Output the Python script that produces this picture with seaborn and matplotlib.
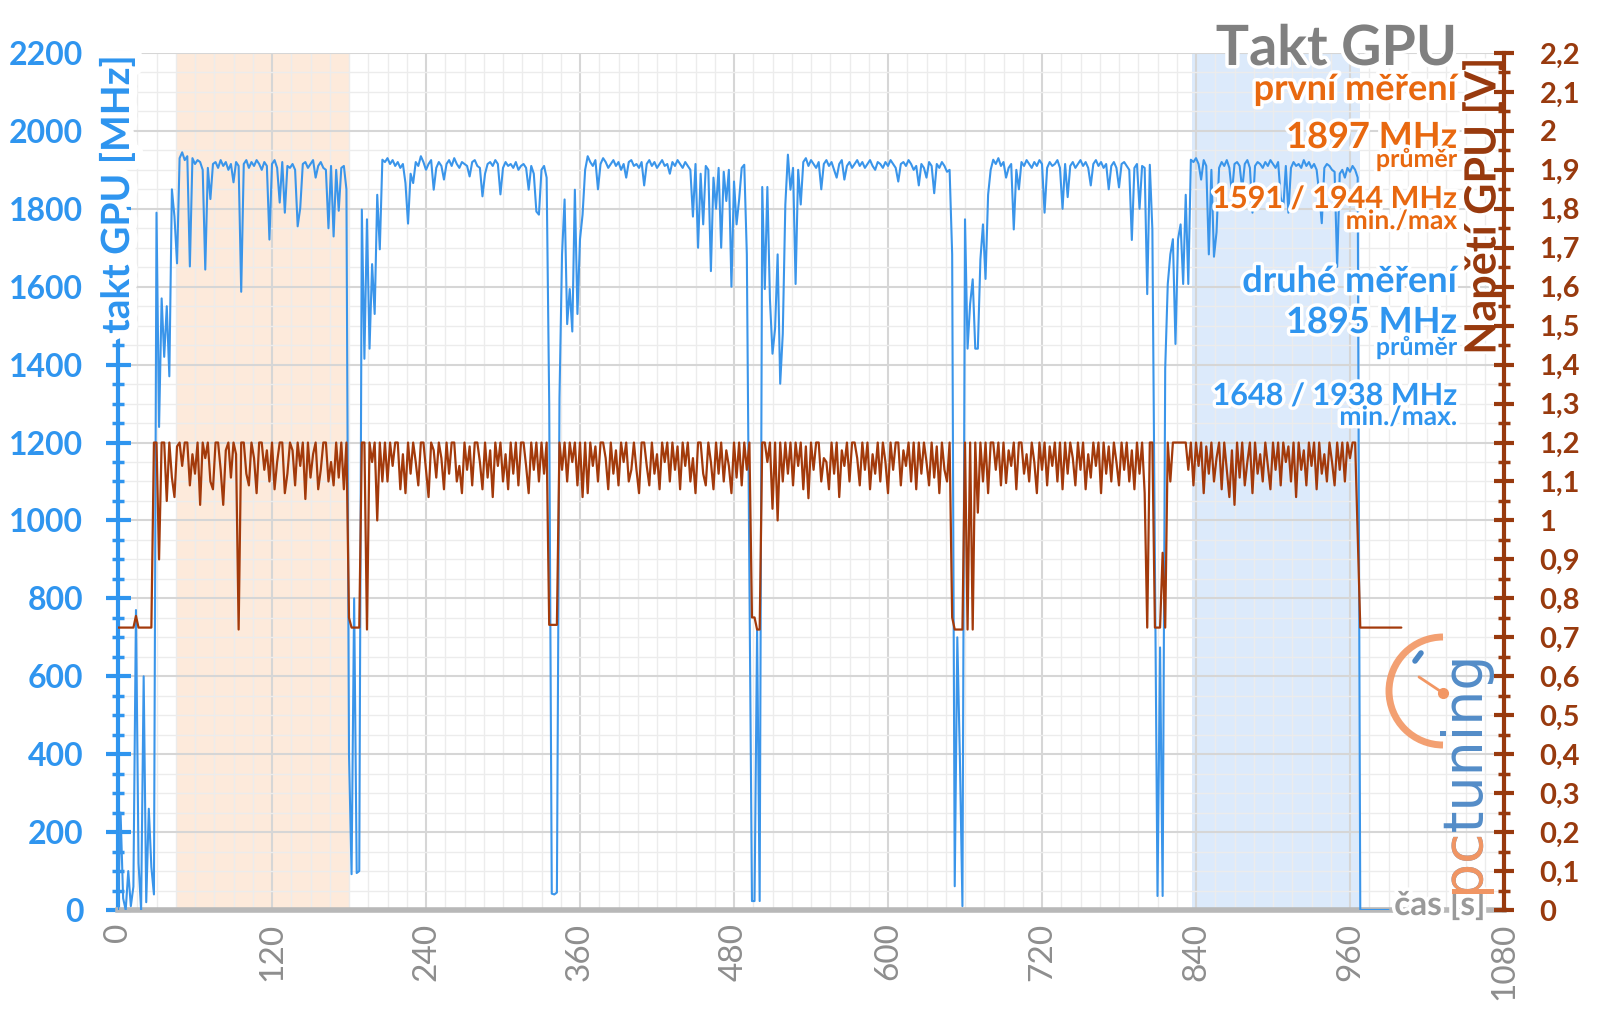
import numpy as np
import pandas as pd
import matplotlib
matplotlib.use("Agg")
import matplotlib.pyplot as plt
import seaborn as sns
from matplotlib.ticker import MultipleLocator, FuncFormatter, FixedLocator
from matplotlib.patches import Arc
import matplotlib.patheffects as pe

# ---------------- data (2 s sampling, each segment: start time, values) ----------------
clock_idle = [0, 250, 30, 0, 100, 10, 60, 770, 120, 0, 600, 20, 260, 110, 40]
clock_ramp = [1790, 1240, 1570, 1420, 1550, 1370, 1850, 1780, 1660]
clock_run1 = [1930, 1945, 1925, 1935, 1652, 1930, 1915, 1925, 1920, 1900, 1644, 1905, 1825, 1915,
              1920, 1905, 1925, 1910, 1920, 1900, 1915, 1868, 1920, 1910, 1587, 1915, 1925, 1905,
              1920, 1910, 1925, 1915, 1900, 1920, 1910, 1721, 1915, 1925, 1905, 1816, 1920, 1790,
              1910, 1905, 1915, 1900, 1755, 1802, 1915, 1920, 1905, 1915, 1925, 1880, 1910, 1920,
              1905, 1900, 1750, 1910, 1729, 1900, 1795, 1905, 1910, 1850]
clock_gap1 = [400, 92, 800, 95, 100, 1798, 1415, 1773, 1441, 1658, 1530, 1836, 1696]
clock_run2 = [1926, 1920, 1930, 1915, 1925, 1910, 1920, 1905, 1915, 1866, 1762, 1890, 1866, 1920,
              1910, 1935, 1920, 1900, 1915, 1925, 1849, 1905, 1920, 1910, 1875, 1915, 1925, 1910,
              1930, 1915, 1905, 1920, 1915, 1910, 1883, 1920, 1925, 1910, 1905, 1832, 1890, 1915,
              1920, 1910, 1925, 1915, 1837, 1905, 1920, 1910, 1915, 1905, 1920, 1900, 1910, 1915,
              1905, 1849, 1910, 1890, 1793, 1785, 1900, 1910, 1880]
clock_gap2 = [1300, 42, 40, 45, 1313, 1683, 1824, 1504, 1594, 1485, 1849, 1530, 1722, 1785, 1900]
clock_run3 = [1935, 1920, 1910, 1925, 1850, 1915, 1930, 1920, 1905, 1915, 1925, 1910, 1920, 1900,
              1915, 1880, 1920, 1925, 1910, 1915, 1905, 1920, 1860, 1915, 1925, 1910, 1920, 1905,
              1915, 1925, 1910, 1915, 1890, 1920, 1910, 1925, 1915, 1905, 1920, 1910, 1900, 1780,
              1915, 1700, 1890, 1760, 1910, 1900, 1640, 1880, 1800, 1905, 1700, 1895, 1820, 1900,
              1600, 1870, 1760, 1824, 1905, 1913, 1683]
clock_gap3 = [23, 23, 720, 23, 1856, 1594, 1856, 1568, 1428, 1492, 1683, 1351, 1479, 1811, 1939]
clock_run4 = [1849, 1905, 1607, 1900, 1811, 1920, 1930, 1910, 1925, 1915, 1905, 1920, 1850, 1915,
              1925, 1910, 1920, 1900, 1880, 1915, 1925, 1875, 1910, 1920, 1905, 1915, 1925, 1910,
              1920, 1905, 1915, 1925, 1910, 1900, 1920, 1915, 1905, 1920, 1910, 1925, 1915, 1905,
              1870, 1915, 1920, 1910, 1925, 1915, 1900, 1910, 1860, 1915, 1905, 1880, 1920, 1910,
              1840, 1915, 1905, 1920, 1910, 1895, 1900]
clock_gap4 = [1683, 61, 700, 393, 10, 1773, 1441, 1556, 1619, 1441, 1441, 1670, 1760, 1620, 1836, 1900]
clock_run5 = [1926, 1915, 1930, 1910, 1920, 1880, 1905, 1915, 1747, 1900, 1850, 1920, 1910, 1925,
              1915, 1905, 1920, 1910, 1925, 1915, 1790, 1905, 1920, 1910, 1915, 1925, 1905, 1800,
              1915, 1830, 1910, 1920, 1905, 1915, 1925, 1910, 1920, 1905, 1860, 1915, 1925, 1910,
              1920, 1905, 1915, 1850, 1910, 1920, 1905, 1855, 1915, 1920, 1910, 1900, 1720, 1905,
              1915, 1800, 1910, 1905, 1581, 1913, 1747]
clock_gap5 = [900, 36, 674, 36, 1390, 1607, 1683, 1722, 1453, 1722, 1760, 1607, 1836, 1607, 1926]
clock_run6 = [1920, 1930, 1915, 1875, 1925, 1910, 1683, 1900, 1677, 1740, 1905, 1920, 1910, 1925,
              1905, 1840, 1915, 1920, 1910, 1850, 1915, 1925, 1905, 1790, 1910, 1920, 1915, 1905,
              1920, 1910, 1925, 1915, 1905, 1920, 1830, 1800, 1910, 1790, 1905, 1920, 1910, 1915,
              1905, 1925, 1910, 1920, 1905, 1915, 1900, 1840, 1763, 1905, 1915, 1910, 1900, 1895,
              1651, 1890, 1900, 1880, 1905, 1895, 1910, 1900, 1880]
clock_end = [0, 0, 0, 0, 0, 0, 0, 0, 0, 0, 0, 0]

volt_idle = [0.725, 0.725, 0.725, 0.725, 0.725, 0.725, 0.725, 0.755, 0.725, 0.725, 0.725, 0.725,
             0.725, 0.725]
volt_run1 = [1.2, 1.2, 0.90, 1.2, 1.2, 1.05, 1.2, 1.11, 1.06, 1.19,
             1.2, 1.14, 1.2, 1.2, 1.09, 1.17, 1.12, 1.2, 1.04, 1.2,
             1.16, 1.2, 1.1, 1.08, 1.2, 1.2, 1.13, 1.04, 1.18, 1.2,
             1.11, 1.2, 1.17, 0.72, 1.2, 1.2, 1.12, 1.09, 1.2, 1.16,
             1.07, 1.2, 1.2, 1.13, 1.18, 1.1, 1.2, 1.08, 1.15, 1.2,
             1.2, 1.07, 1.12, 1.2, 1.18, 1.09, 1.2, 1.14, 1.2, 1.055,
             1.2, 1.11, 1.17, 1.2, 1.08, 1.13, 1.2, 1.2, 1.1, 1.15,
             1.09, 1.2, 1.11, 1.2, 1.08, 1.2]
volt_gap1 = [0.75, 0.725, 0.725, 0.725, 0.725, 1.2, 1.2, 0.72, 1.2, 1.15, 1.2, 1.0, 1.2, 1.1, 1.2]
volt_run2 = [1.1, 1.2, 1.14, 1.2, 1.2, 1.08, 1.17, 1.07, 1.2, 1.12,
             1.2, 1.15, 1.09, 1.2, 1.2, 1.13, 1.06, 1.2, 1.18, 1.11,
             1.2, 1.16, 1.08, 1.2, 1.12, 1.2, 1.2, 1.1, 1.14, 1.07,
             1.2, 1.13, 1.19, 1.09, 1.2, 1.2, 1.15, 1.08, 1.2, 1.11,
             1.18, 1.06, 1.2, 1.14, 1.2, 1.1, 1.17, 1.08, 1.2, 1.12,
             1.2, 1.09, 1.2, 1.2, 1.14, 1.07, 1.2, 1.13, 1.2, 1.1,
             1.2, 1.12, 1.2]
volt_gap2 = [0.732, 0.732, 0.732, 0.732, 1.2, 1.13, 1.2, 1.1, 1.2, 1.15, 1.2, 1.09, 1.2, 1.06]
volt_run3 = [1.2, 1.07, 1.2, 1.14, 1.19, 1.1, 1.2, 1.2, 1.16, 1.08,
             1.2, 1.12, 1.18, 1.09, 1.2, 1.15, 1.2, 1.1, 1.13, 1.2,
             1.13, 1.07, 1.2, 1.2, 1.14, 1.09, 1.2, 1.12, 1.17, 1.08,
             1.2, 1.15, 1.2, 1.1, 1.2, 1.13, 1.19, 1.08, 1.2, 1.14,
             1.2, 1.1, 1.16, 1.07, 1.2, 1.2, 1.12, 1.09, 1.2, 1.15,
             1.08, 1.2, 1.12, 1.2, 1.1, 1.18, 1.14, 1.07, 1.2, 1.11,
             1.2, 1.09, 1.2, 1.13, 1.2]
volt_gap3 = [0.751, 0.751, 0.72, 0.72, 1.2, 1.2, 1.15, 1.2, 1.03, 1.2, 1.0, 1.2, 1.1, 1.2, 1.12]
volt_run4 = [1.2, 1.09, 1.2, 1.14, 1.2, 1.08, 1.19, 1.057, 1.2, 1.13,
             1.2, 1.2, 1.1, 1.16, 1.15, 1.08, 1.2, 1.12, 1.2, 1.06,
             1.18, 1.14, 1.2, 1.1, 1.2, 1.2, 1.16, 1.09, 1.2, 1.13,
             1.2, 1.08, 1.17, 1.12, 1.2, 1.1, 1.2, 1.15, 1.07, 1.2,
             1.13, 1.2, 1.2, 1.09, 1.18, 1.14, 1.2, 1.1, 1.2, 1.08,
             1.2, 1.12, 1.2, 1.15, 1.09, 1.2, 1.11, 1.19, 1.07, 1.2,
             1.13, 1.1, 1.2]
volt_gap4 = [0.751, 0.72, 0.72, 0.72, 0.72, 1.2, 0.72, 1.2, 0.72, 1.2, 1.02, 1.2, 1.1, 1.2, 1.07, 1.2]
volt_run5 = [1.2, 1.13, 1.2, 1.09, 1.2, 1.096, 1.18, 1.14, 1.2, 1.08,
             1.2, 1.2, 1.12, 1.17, 1.1, 1.2, 1.15, 1.07, 1.2, 1.13,
             1.2, 1.09, 1.19, 1.14, 1.2, 1.1, 1.2, 1.08, 1.2, 1.12,
             1.2, 1.16, 1.09, 1.2, 1.13, 1.2, 1.08, 1.17, 1.11, 1.2,
             1.14, 1.2, 1.07, 1.2, 1.12, 1.19, 1.1, 1.2, 1.15, 1.09,
             1.2, 1.13, 1.2, 1.1, 1.18, 1.08, 1.2, 1.12, 1.2, 1.07]
volt_gap5 = [0.725, 1.2, 1.2, 0.725, 0.725, 0.725, 0.917, 0.725, 1.2, 1.1, 1.2, 1.2, 1.2, 1.2, 1.2,
             1.2, 1.13]
volt_run6 = [1.2, 1.09, 1.2, 1.14, 1.2, 1.07, 1.19, 1.12, 1.2, 1.1,
             1.16, 1.2, 1.08, 1.2, 1.13, 1.06, 1.18, 1.04, 1.2, 1.11,
             1.2, 1.09, 1.15, 1.2, 1.07, 1.2, 1.12, 1.17, 1.1, 1.2,
             1.14, 1.08, 1.2, 1.13, 1.2, 1.09, 1.2, 1.15, 1.19, 1.1,
             1.2, 1.06, 1.2, 1.13, 1.18, 1.09, 1.2, 1.14, 1.2, 1.08,
             1.2, 1.12, 1.17, 1.1, 1.2, 1.15, 1.09, 1.2, 1.13, 1.2,
             1.1, 1.2, 1.16, 1.2, 1.2]
volt_end = [0.725, 0.725, 0.725, 0.725, 0.725, 0.725, 0.725, 0.725, 0.725, 0.725, 0.725, 0.725,
            0.725, 0.725, 0.725, 0.725, 0.725]

clock_segments = [(0, clock_idle), (30, clock_ramp), (48, clock_run1), (180, clock_gap1),
                  (206, clock_run2), (336, clock_gap2), (366, clock_run3), (494, clock_gap3),
                  (524, clock_run4), (650, clock_gap4), (682, clock_run5), (808, clock_gap5),
                  (838, clock_run6), (968, clock_end)]
volt_segments = [(0, volt_idle), (28, volt_run1), (180, volt_gap1), (210, volt_run2),
                 (336, volt_gap2), (364, volt_run3), (494, volt_gap3), (524, volt_run4),
                 (650, volt_gap4), (682, volt_run5), (802, volt_gap5), (836, volt_run6),
                 (968, volt_end)]

x_ticks = [0, 120, 240, 360, 480, 600, 720, 840, 960, 1080]
first_run = (45, 180)
second_run = (837, 968)


def expand(segments, name):
    t, v = [], []
    for start, vals in segments:
        t.extend(start + 2 * np.arange(len(vals)))
        v.extend(vals)
    return pd.DataFrame({"t": t, name: v})


df_clock = expand(clock_segments, "mhz")
df_volt = expand(volt_segments, "v")

# ---------------- style ----------------
sns.set_style("white")
plt.rcParams['font.family'] = ['Lato', 'DejaVu Sans']

BLUE = '#2F95EF'
LINE_BLUE = '#3A95EA'
BROWN = '#983A0E'
LINE_BROWN = '#A33A0B'
ORANGE = '#E8680F'
GRAY = '#8E8E8E'
glow = [pe.withStroke(linewidth=5, foreground='white')]
glow_big = [pe.withStroke(linewidth=12, foreground='white')]

fig = plt.figure(figsize=(16, 10.09), dpi=100)
ax = fig.add_axes([0.07375, 0.0981, 0.86625, 0.8494])
ax2 = ax.twinx()

ax.axvspan(*first_run, color='#FDEADB', zorder=0, lw=0)
ax.axvspan(*second_run, color='#DCEAFB', zorder=0, lw=0)

sns.lineplot(data=df_clock, x="t", y="mhz", ax=ax, color=LINE_BLUE, lw=1.5,
             estimator=None, zorder=3)
sns.lineplot(data=df_volt, x="t", y="v", ax=ax2, color=LINE_BROWN, lw=1.6,
             estimator=None, zorder=3)

ax.set_xlim(0, 1080)
ax.set_ylim(0, 2200)
ax2.set_ylim(0, 2.2)
ax.set_xlabel("")
ax.set_ylabel("")
ax2.set_ylabel("")

ax.xaxis.set_major_locator(FixedLocator(x_ticks))
ax.xaxis.set_minor_locator(MultipleLocator(15))
ax.yaxis.set_major_locator(MultipleLocator(200))
ax.yaxis.set_minor_locator(MultipleLocator(50))
ax2.yaxis.set_major_locator(MultipleLocator(0.1))
ax2.yaxis.set_minor_locator(MultipleLocator(0.05))

ax.set_axisbelow(True)
ax.grid(which='major', color='#d6d6d6', lw=1.5)
ax.grid(which='minor', color='#ececec', lw=1.0)

for s in ['top', 'right']:
    ax.spines[s].set_visible(False)
for s in ['top', 'left', 'bottom']:
    ax2.spines[s].set_visible(False)
ax.spines['left'].set_color(BLUE)
ax.spines['left'].set_linewidth(3)
ax.spines['bottom'].set_color('#b8b8b8')
ax.spines['bottom'].set_linewidth(4)
ax2.spines['right'].set_color(BROWN)
ax2.spines['right'].set_linewidth(3)

ax.tick_params(axis='y', which='major', direction='inout', length=18, width=3,
               color=BLUE, labelcolor=BLUE, labelsize=23, pad=16)
ax.tick_params(axis='y', which='minor', direction='inout', length=9, width=2.5, color=BLUE)
ax.tick_params(axis='x', which='major', direction='out', length=5, width=3,
               color='#b8b8b8', labelcolor=GRAY, labelsize=24, pad=4, labelrotation=90)
ax.tick_params(axis='x', which='minor', length=0)

ax2.tick_params(axis='y', which='major', direction='inout', length=15, width=3,
                color=BROWN, labelcolor=BROWN, labelsize=21, pad=18)
ax2.tick_params(axis='y', which='minor', direction='inout', length=9, width=2.5, color=BROWN)


def comma_fmt(v, pos):
    s = f"{v:.1f}"
    if s.endswith(".0"):
        s = s[:-2]
    return s.replace(".", ",")


ax2.yaxis.set_major_formatter(FuncFormatter(comma_fmt))
fig.canvas.draw()
for lab in ax.get_yticklabels() + ax2.get_yticklabels():
    lab.set_fontweight('bold')

# right axis title sits under the brown ticks (drawn inside ax2, below its axis)
ax2.text(1482 / 1600, 1 - 58 / 1009, 'Napětí GPU [V]', rotation=90, ha='center', va='top',
         fontsize=31, fontweight='bold', color=BROWN, transform=fig.transFigure,
         zorder=0.1, clip_on=False, path_effects=[pe.withStroke(linewidth=4, foreground='white')])

# ---------------- overlay in pixel coordinates ----------------
ov = fig.add_axes([0, 0, 1, 1])
ov.set_xlim(0, 1600)
ov.set_ylim(1009, 0)
ov.axis('off')
ov.set_zorder(10)
ov.patch.set_alpha(0)

ov.text(117, 55, 'takt GPU [MHz]', rotation=90, ha='center', va='top', fontsize=28,
        fontweight='bold', color=BLUE, path_effects=glow_big)

RX = 1457
ov.text(RX, 65, 'Takt GPU', ha='right', va='baseline', fontsize=40, fontweight='bold',
        color='#808080', path_effects=glow)
ov.text(RX, 100, 'první měření', ha='right', va='baseline', fontsize=26, fontweight='bold',
        color=ORANGE, path_effects=glow)
ov.text(RX, 148, '1897 MHz', ha='right', va='baseline', fontsize=26, fontweight='bold',
        color=ORANGE, path_effects=glow)
ov.text(RX, 167, 'průměr', ha='right', va='baseline', fontsize=18, fontweight='bold',
        color=ORANGE, path_effects=glow)
ov.text(RX, 208, '1591 / 1944 MHz', ha='right', va='baseline', fontsize=22, fontweight='bold',
        color=ORANGE, path_effects=glow)
ov.text(RX, 229, 'min./max', ha='right', va='baseline', fontsize=19, fontweight='bold',
        color=ORANGE, path_effects=glow)
ov.text(RX, 292, 'druhé měření', ha='right', va='baseline', fontsize=26, fontweight='bold',
        color=BLUE, path_effects=glow)
ov.text(RX, 333, '1895 MHz', ha='right', va='baseline', fontsize=26, fontweight='bold',
        color=BLUE, path_effects=glow)
ov.text(RX, 355, 'průměr', ha='right', va='baseline', fontsize=18, fontweight='bold',
        color=BLUE, path_effects=glow)
ov.text(RX, 405, '1648 / 1938 MHz', ha='right', va='baseline', fontsize=22, fontweight='bold',
        color=BLUE, path_effects=glow)
ov.text(RX, 425, 'min./max.', ha='right', va='baseline', fontsize=19, fontweight='bold',
        color=BLUE, path_effects=glow)

ov.text(1440, 905, 'čas [s]', ha='center', va='center', fontsize=24, fontweight='bold',
        color='#9a9a9a', path_effects=glow)

# logo
ov.add_patch(Arc((1443, 691), 108, 108, theta1=90, theta2=270, color='#F29663', lw=5, alpha=0.9))
ov.plot([1443, 1419], [693, 677], color='#F29663', lw=2)
ov.plot([1443], [693], 'o', color='#F29663', ms=7)
ov.plot([1415, 1421], [661, 653], color='#4A86C5', lw=4)
ov.text(1478, 893, 'pctuning', rotation=90, rotation_mode='anchor', ha='left', va='baseline',
        fontsize=40, color='#4A86C5', family='DejaVu Sans', alpha=0.95)
ov.text(1478, 893, 'pc', rotation=90, rotation_mode='anchor', ha='left', va='baseline',
        fontsize=40, color='#F29663', family='DejaVu Sans')

fig.savefig("out.png", dpi=100)
